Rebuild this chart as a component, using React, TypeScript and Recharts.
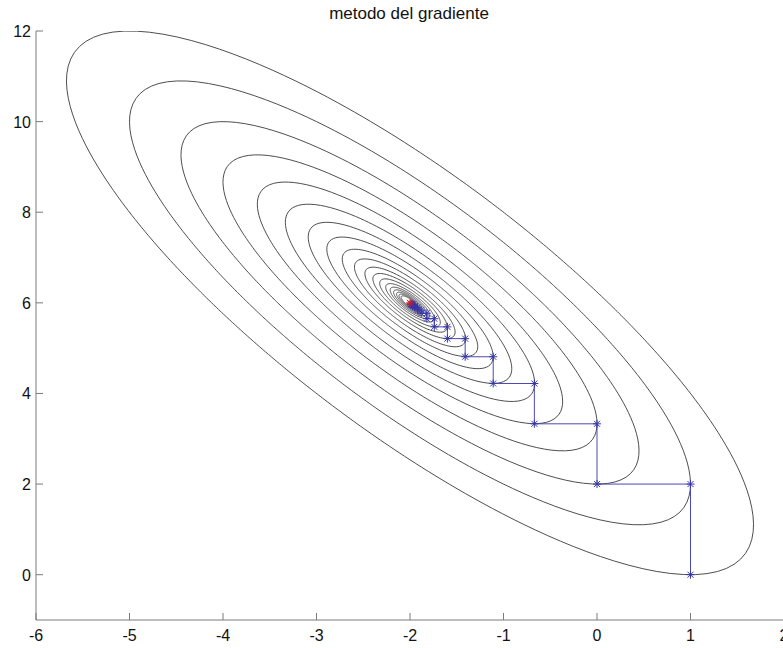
import React from "react";
import { ScatterChart, Scatter, XAxis, YAxis } from "recharts";

// Quadratic objective f(u, v) = a·u² + 2b·u·v + c·v², with u = x − x0, v = y − y0
const QUAD = { a: 8, b: 4, c: 3 };
const CENTER = { x: -2, y: 6 };

// Contour levels (value of f at each iterate of the descent)
const LEVELS = [
  36, 24, 16, 10.67, 7.11, 4.74, 3.16, 2.11, 1.4, 0.94, 0.62, 0.42, 0.28,
  0.18, 0.12, 0.082, 0.055, 0.037, 0.024,
];

// Iterates of the descent, alternating moves along y and along x
const PATH_X = [
  1, 1, 0, 0, -0.67, -0.67, -1.11, -1.11, -1.41, -1.41, -1.6, -1.6, -1.74,
  -1.74, -1.82, -1.82, -1.88, -1.88, -1.92, -1.92, -1.95, -1.95, -1.97, -1.97,
  -1.98, -1.98, -1.99, -1.99,
];
const PATH_Y = [
  0, 2, 2, 3.33, 3.33, 4.22, 4.22, 4.81, 4.81, 5.21, 5.21, 5.47, 5.47, 5.65,
  5.65, 5.77, 5.77, 5.84, 5.84, 5.9, 5.9, 5.93, 5.93, 5.96, 5.96, 5.97, 5.97,
  5.98,
];
const MINIMUM = [{ x: -2, y: 6 }];

const X_TICKS = [-6, -5, -4, -3, -2, -1, 0, 1, 2];
const Y_TICKS = [0, 2, 4, 6, 8, 10, 12];
const TITLE = "metodo del gradiente";

// Layout
const W = 800;
const H = 648;
const PLOT_LEFT = 36;
const PLOT_TOP = 31;
const PLOT_RIGHT = 784;
const PLOT_BOTTOM = 620;
const TICK_LEN = 7;
const AXIS_COLOR = "#7a7a7a";
const CONTOUR_COLOR = "#3a3a3a";
const PATH_COLOR = "#4a4ab4";
const FONT = "Arial, 'Liberation Sans', Helvetica, sans-serif";

const SAMPLES = 360;
function levelCurve(level: number) {
  const pts: { x: number; y: number }[] = [];
  for (let i = 0; i <= SAMPLES; i++) {
    const t = (i / SAMPLES) * 2 * Math.PI;
    const cu = Math.cos(t);
    const sv = Math.sin(t);
    const q = QUAD.a * cu * cu + 2 * QUAD.b * cu * sv + QUAD.c * sv * sv;
    const r = Math.sqrt(level / q);
    pts.push({ x: CENTER.x + r * cu, y: CENTER.y + r * sv });
  }
  return pts;
}

const contours = LEVELS.map(levelCurve);
const pathData = PATH_X.map((x, i) => ({ x, y: PATH_Y[i] }));

const noMark = () => <g />;

const makeStar = (color: string) => (props: any) => {
  const { cx, cy } = props;
  if (cx == null || cy == null) return <g />;
  const s = 4;
  const d = 3;
  return (
    <g stroke={color} strokeWidth={1}>
      <line x1={cx - s} y1={cy} x2={cx + s} y2={cy} />
      <line x1={cx} y1={cy - s} x2={cx} y2={cy + s} />
      <line x1={cx - d} y1={cy - d} x2={cx + d} y2={cy + d} />
      <line x1={cx - d} y1={cy + d} x2={cx + d} y2={cy - d} />
    </g>
  );
};

const BottomTick = (props: any) => {
  const { x, payload } = props;
  return (
    <g>
      <line x1={x} y1={PLOT_BOTTOM} x2={x} y2={PLOT_BOTTOM - TICK_LEN} stroke={AXIS_COLOR} />
      <text x={x} y={641} textAnchor="middle" fontFamily={FONT} fontSize={16} fill="#111">
        {String(payload.value)}
      </text>
    </g>
  );
};

const TopTick = (props: any) => {
  const { x } = props;
  return <line x1={x} y1={PLOT_TOP} x2={x} y2={PLOT_TOP + TICK_LEN} stroke={AXIS_COLOR} />;
};

const LeftTick = (props: any) => {
  const { y, payload } = props;
  return (
    <g>
      <line x1={PLOT_LEFT} y1={y} x2={PLOT_LEFT + TICK_LEN} y2={y} stroke={AXIS_COLOR} />
      <text x={31} y={y + 6} textAnchor="end" fontFamily={FONT} fontSize={16} fill="#111">
        {String(payload.value)}
      </text>
    </g>
  );
};

const RightTick = (props: any) => {
  const { y } = props;
  return <line x1={PLOT_RIGHT} y1={y} x2={PLOT_RIGHT - TICK_LEN} y2={y} stroke={AXIS_COLOR} />;
};

export default function App() {
  return (
    <div
      style={{
        position: "absolute",
        left: 0,
        top: 0,
        width: 783,
        height: 648,
        overflow: "hidden",
        background: "#ffffff",
      }}
    >
      <ScatterChart
        width={W}
        height={H}
        margin={{ top: PLOT_TOP, right: W - PLOT_RIGHT, bottom: 0, left: 0 }}
      >
        <XAxis
          type="number"
          dataKey="x"
          domain={[-6, 2]}
          ticks={X_TICKS}
          interval={0}
          allowDataOverflow
          height={H - PLOT_BOTTOM}
          axisLine={{ stroke: AXIS_COLOR }}
          tickLine={false}
          tick={<BottomTick />}
        />
        <XAxis
          xAxisId="top"
          orientation="top"
          type="number"
          dataKey="x"
          domain={[-6, 2]}
          ticks={X_TICKS}
          interval={0}
          allowDataOverflow
          height={0}
          axisLine={{ stroke: AXIS_COLOR }}
          tickLine={false}
          tick={<TopTick />}
        />
        <YAxis
          type="number"
          dataKey="y"
          domain={[-1, 12]}
          ticks={Y_TICKS}
          interval={0}
          allowDataOverflow
          width={PLOT_LEFT}
          axisLine={{ stroke: AXIS_COLOR }}
          tickLine={false}
          tick={<LeftTick />}
        />
        <YAxis
          yAxisId="right"
          orientation="right"
          type="number"
          dataKey="y"
          domain={[-1, 12]}
          ticks={Y_TICKS}
          interval={0}
          allowDataOverflow
          width={0}
          axisLine={{ stroke: AXIS_COLOR }}
          tickLine={false}
          tick={<RightTick />}
        />
        {contours.map((pts, i) => (
          <Scatter
            key={`level-${i}`}
            data={pts}
            line={{ stroke: CONTOUR_COLOR, strokeWidth: 0.9 }}
            lineJointType="linear"
            shape={noMark}
            fill={CONTOUR_COLOR}
            isAnimationActive={false}
          />
        ))}
        <Scatter
          data={pathData}
          line={{ stroke: PATH_COLOR, strokeWidth: 1 }}
          lineJointType="linear"
          shape={makeStar("#3636a8")}
          fill={PATH_COLOR}
          isAnimationActive={false}
        />
        <Scatter
          data={MINIMUM}
          shape={makeStar("#e01818")}
          fill="#e01818"
          isAnimationActive={false}
        />
      </ScatterChart>
      <svg
        width={783}
        height={30}
        style={{ position: "absolute", left: 0, top: 0 }}
      >
        <text x={409} y={19} textAnchor="middle" fontFamily={FONT} fontSize={17} fill="#111">
          {TITLE}
        </text>
      </svg>
    </div>
  );
}
